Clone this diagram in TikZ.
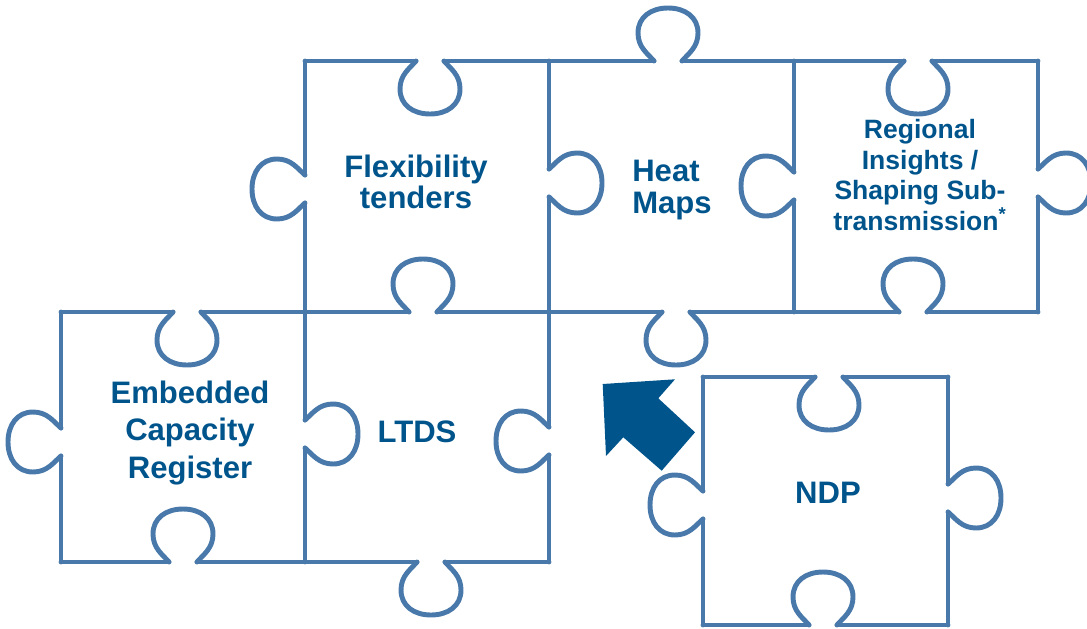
\documentclass[tikz,border=0pt]{standalone}
\usepackage{fontspec}
\setmainfont{Liberation Sans}
\usepackage{xcolor}
\usepackage{tikz}

\definecolor{piece}{RGB}{72,121,170}
\definecolor{txtblue}{RGB}{0,84,140}

\tikzset{
  pz/.style={draw=piece, line width=3.7pt, line cap=round, line join=round},
  bulb/.pic={\draw[pz] (-14,0) .. controls (-21,8) and (-30,14) .. (-30,28)
      .. controls (-30,44) and (-17,53) .. (0,53)
      .. controls (17,53) and (30,44) .. (30,28)
      .. controls (30,14) and (21,8) .. (14,0);},
  lbl/.style={text=txtblue, font=\bfseries\fontsize{23.3}{23.7}\selectfont, align=center}
}

% edge of a piece: position, from, to, bulb centre, bulb side
\newcommand{\hedge}[5]{\draw[pz] (#2,#1) -- ({#4-14},#1) ({#4+14},#1) -- (#3,#1);
  \pic[yscale=#5] at (#4,#1) {bulb};}
\newcommand{\vedge}[5]{\draw[pz] (#1,#2) -- (#1,{#4-14}) (#1,{#4+14}) -- (#1,#3);
  \pic[rotate=90,yscale=#5] at (#1,#4) {bulb};}

\begin{document}
\begin{tikzpicture}[x=0.75pt,y=-0.75pt]
            \useasboundingbox (0,0) rectangle (1087,628);

            \hedge{61}{305}{549}{430}{1}
            \hedge{61}{549}{794}{668}{-1}
            \hedge{61}{794}{1038}{918}{1}
            \vedge{305}{61}{312}{189}{-1}
            \vedge{549}{61}{312}{183}{1}
            \vedge{794}{61}{312}{186}{-1}
            \vedge{1038}{61}{312}{183}{1}
            \hedge{312}{305}{549}{423}{-1}
            \hedge{312}{549}{794}{676}{1}
            \hedge{312}{794}{1038}{913}{-1}

            \hedge{312}{61}{305}{187}{1}
            \vedge{61}{312}{562}{442}{-1}
            \vedge{305}{312}{562}{434}{1}
            \vedge{549}{312}{562}{441}{-1}
            \hedge{562}{61}{305}{183}{-1}
            \hedge{562}{305}{549}{431}{1}

            \hedge{377}{703}{948}{829}{1}
            \hedge{625}{703}{948}{823}{-1}
            \vedge{703}{377}{625}{505}{-1}
            \vedge{948}{377}{625}{498}{1}

            \fill[txtblue] (602.7,384) -- (675,379.3) -- (658.3,398.3) -- (695,432.3)
                -- (661.7,470.7) -- (623.3,437.3) -- (606,456) -- cycle;

            \node[lbl] (flex) at (416,182) {Flexibility\\tenders};
            \node[lbl, align=left] (heat) at (672,190) {Heat\\Maps};
            \node[lbl, font=\bfseries\fontsize{19.9}{22.9}\selectfont] (regional) at (920,175)
                {Regional\\Insights /\\Shaping Sub-\\transmission\textsuperscript{*}};
            \node[lbl, font=\bfseries\fontsize{23.3}{28}\selectfont] (ecr) at (190,433)
                {Embedded\\Capacity\\Register};
            \node[lbl] (ltds) at (417,432) {LTDS};
            \node[lbl] (ndp) at (828,493) {NDP};
        \end{tikzpicture}
\end{document}
